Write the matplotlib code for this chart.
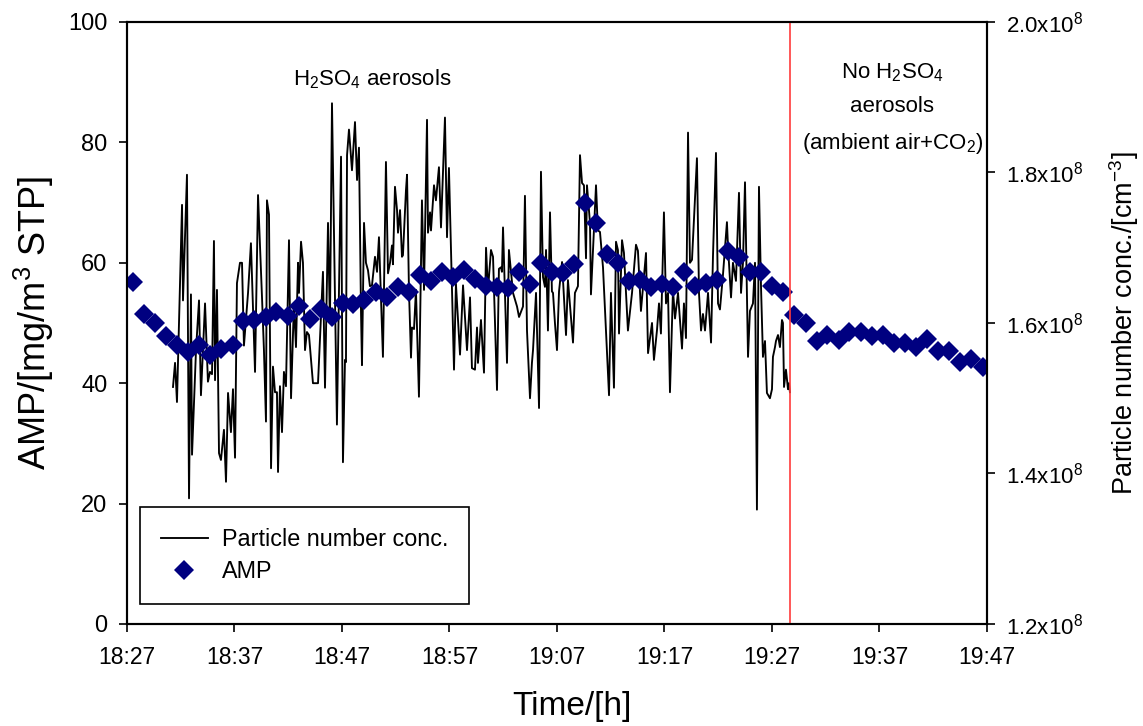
import datetime as dt
import matplotlib
matplotlib.use("Agg")
import matplotlib.pyplot as plt
import matplotlib.dates as mdates
from matplotlib.lines import Line2D

plt.rcParams['font.family'] = ['Liberation Sans', 'DejaVu Sans']
plt.rcParams['mathtext.default'] = 'regular'

# AMP concentration [mg/m3 STP], minutes after 18:27
amp_minutes = [0.56, 1.58, 2.60, 3.63, 4.65, 5.67, 6.70, 7.72, 8.74, 9.86,
               10.79, 11.81, 12.93, 13.86, 14.98, 16.00, 17.02, 18.05, 19.07, 20.09,
               21.02, 22.05, 23.16, 24.19, 25.21, 26.23, 27.26, 28.28, 29.30, 30.33,
               31.35, 32.37, 33.40, 34.42, 35.44, 36.47, 37.49, 38.51, 39.53, 40.56,
               41.58, 42.60, 43.63, 44.65, 45.67, 46.70, 47.72, 48.74, 49.77, 50.79,
               51.81, 52.84, 53.86, 54.88, 55.91, 56.93, 57.95, 58.98, 60.00, 61.02,
               62.05, 63.16, 64.19, 65.12, 66.23, 67.16, 68.28, 69.30, 70.33, 71.35,
               72.37, 73.40, 74.42, 75.44, 76.47, 77.49, 78.51, 79.63]
amp_values = [56.8, 51.5, 50.0, 47.8, 46.3, 45.2, 46.3, 44.7, 45.7, 46.3,
              50.3, 50.5, 51.0, 51.8, 51.2, 52.8, 50.7, 52.3, 51.0, 53.3,
              53.2, 53.8, 55.1, 54.3, 56.0, 55.1, 58.0, 57.0, 58.5, 57.6,
              58.8, 57.3, 56.1, 56.0, 55.8, 58.5, 56.5, 60.0, 58.5, 58.3,
              59.8, 69.9, 66.6, 61.5, 60.0, 57.0, 57.1, 56.0, 56.5, 56.0,
              58.5, 56.1, 56.6, 57.1, 62.0, 61.0, 58.5, 58.5, 56.1, 55.1,
              51.3, 50.0, 47.0, 48.0, 47.2, 48.5, 48.5, 47.8, 48.0, 46.7,
              46.7, 46.0, 47.3, 45.3, 45.3, 43.5, 44.0, 42.7]

# Particle number concentration [1e8 cm^-3], minutes after 18:27
pn_minutes = [4.28, 4.47, 4.65, 5.12, 5.21, 5.58, 5.77, 5.95, 6.05, 6.42,
              6.70, 6.88, 7.26, 7.53, 7.72, 7.91, 8.09, 8.19, 8.37, 8.56,
              8.74, 9.02, 9.21, 9.40, 9.67, 9.86, 10.05, 10.23, 10.51, 10.70,
              10.88, 11.26, 11.53, 11.91, 12.19, 12.56, 12.74, 12.93, 13.02, 13.21,
              13.40, 13.58, 13.77, 13.95, 14.05, 14.23, 14.42, 14.60, 14.79, 15.07,
              15.26, 15.53, 15.72, 15.91, 16.00, 16.19, 16.37, 16.56, 16.74, 16.93,
              17.30, 17.77, 18.23, 18.42, 18.70, 18.88, 19.07, 19.53, 19.91, 20.09,
              20.28, 20.37, 20.47, 20.65, 20.93, 21.21, 21.40, 21.58, 21.77, 21.86,
              22.05, 22.23, 22.42, 22.60, 22.79, 23.07, 23.26, 23.44, 23.81, 24.09,
              24.28, 24.47, 24.65, 24.74, 24.93, 25.12, 25.21, 25.40, 25.58, 25.67,
              25.95, 26.05, 26.23, 26.42, 26.51, 26.70, 26.88, 27.16, 27.44, 27.63,
              27.91, 28.00, 28.19, 28.28, 28.56, 28.74, 29.02, 29.21, 29.58, 29.77,
              29.95, 30.23, 30.42, 30.60, 30.98, 31.26, 31.63, 31.91, 32.09, 32.37,
              32.56, 32.65, 32.93, 33.21, 33.40, 33.58, 33.86, 34.05, 34.42, 34.60,
              34.79, 34.88, 34.98, 35.35, 35.53, 35.91, 36.28, 36.47, 36.84, 37.02,
              37.21, 37.49, 37.67, 37.77, 38.05, 38.33, 38.51, 38.70, 38.88, 38.98,
              39.16, 39.35, 39.53, 39.63, 39.81, 40.00, 40.19, 40.47, 40.84, 41.02,
              41.49, 41.67, 41.95, 42.14, 42.33, 42.51, 42.70, 42.79, 43.07, 43.16,
              43.63, 43.81, 44.00, 44.28, 44.84, 45.02, 45.30, 45.49, 45.67, 45.77,
              46.05, 46.23, 46.60, 46.98, 47.35, 47.53, 47.81, 48.28, 48.47, 48.84,
              49.02, 49.30, 49.49, 49.67, 49.95, 50.14, 50.33, 50.51, 50.79, 50.98,
              51.26, 51.63, 51.81, 52.00, 52.19, 52.37, 52.56, 53.02, 53.21, 53.40,
              53.58, 53.77, 54.05, 54.33, 54.51, 54.79, 54.98, 55.16, 55.44, 55.81,
              55.91, 56.19, 56.37, 56.65, 56.93, 57.12, 57.30, 57.49, 57.77, 57.95,
              58.23, 58.42, 58.60, 58.79, 58.98, 59.16, 59.35, 59.53, 59.81, 60.00,
              60.09, 60.28, 60.37, 60.56, 60.74, 60.93, 61.02, 61.12, 61.30, 61.49,
              61.58, 61.67]
pn_values = [1.515, 1.547, 1.495, 1.757, 1.630, 1.797, 1.367, 1.638, 1.425, 1.564,
             1.630, 1.504, 1.626, 1.522, 1.535, 1.532, 1.709, 1.524, 1.644, 1.427,
             1.418, 1.458, 1.389, 1.507, 1.455, 1.512, 1.421, 1.653, 1.680, 1.680,
             1.570, 1.640, 1.706, 1.535, 1.770, 1.634, 1.564, 1.469, 1.763, 1.744,
             1.407, 1.542, 1.508, 1.508, 1.402, 1.516, 1.455, 1.535, 1.516, 1.710,
             1.500, 1.626, 1.568, 1.680, 1.640, 1.708, 1.680, 1.564, 1.588, 1.584,
             1.520, 1.520, 1.668, 1.514, 1.733, 1.600, 1.892, 1.465, 1.821, 1.415,
             1.551, 1.548, 1.823, 1.857, 1.803, 1.867, 1.790, 1.833, 1.614, 1.544,
             1.733, 1.680, 1.670, 1.649, 1.650, 1.688, 1.668, 1.714, 1.555, 1.814,
             1.666, 1.680, 1.703, 1.678, 1.781, 1.750, 1.720, 1.750, 1.688, 1.690,
             1.776, 1.797, 1.644, 1.554, 1.594, 1.592, 1.644, 1.502, 1.763, 1.644,
             1.870, 1.720, 1.747, 1.723, 1.783, 1.763, 1.807, 1.727, 1.873, 1.714,
             1.806, 1.646, 1.538, 1.652, 1.558, 1.650, 1.564, 1.634, 1.540, 1.538,
             1.594, 1.547, 1.604, 1.534, 1.700, 1.644, 1.697, 1.688, 1.511, 1.672,
             1.674, 1.668, 1.727, 1.547, 1.697, 1.640, 1.622, 1.608, 1.622, 1.769,
             1.590, 1.500, 1.547, 1.564, 1.640, 1.487, 1.801, 1.661, 1.648, 1.697,
             1.590, 1.747, 1.642, 1.640, 1.600, 1.564, 1.642, 1.681, 1.584, 1.657,
             1.574, 1.640, 1.649, 1.823, 1.786, 1.783, 1.686, 1.783, 1.733, 1.638,
             1.783, 1.723, 1.721, 1.674, 1.504, 1.640, 1.514, 1.708, 1.697, 1.586,
             1.710, 1.693, 1.590, 1.640, 1.704, 1.696, 1.616, 1.693, 1.560, 1.600,
             1.551, 1.590, 1.626, 1.586, 1.747, 1.626, 1.640, 1.508, 1.644, 1.606,
             1.640, 1.566, 1.626, 1.580, 1.853, 1.680, 1.684, 1.819, 1.640, 1.590,
             1.612, 1.590, 1.640, 1.574, 1.688, 1.826, 1.626, 1.618, 1.664, 1.734,
             1.701, 1.634, 1.680, 1.656, 1.773, 1.640, 1.680, 1.787, 1.555, 1.616,
             1.626, 1.680, 1.352, 1.781, 1.648, 1.555, 1.576, 1.507, 1.500, 1.512,
             1.555, 1.568, 1.576, 1.584, 1.568, 1.604, 1.600, 1.515, 1.538, 1.512,
             1.520, 1.508]

switch_minute = 61.7          # end of H2SO4 aerosol dosing
start = dt.datetime(2000, 1, 1, 18, 27)
end = dt.datetime(2000, 1, 1, 19, 47)
left_ticks = [0, 20, 40, 60, 80, 100]
right_ticks = [1.2, 1.4, 1.6, 1.8, 2.0]


def to_time(mins):
    return [start + dt.timedelta(minutes=m) for m in mins]


fig = plt.figure(figsize=(11.43, 7.26), dpi=100)
ax = fig.add_axes([0.1111, 0.1405, 0.7524, 0.8292])
ax2 = ax.twinx()

# particle number concentration on the right axis (drawn underneath)
ax2.plot(to_time(pn_minutes), [v * 1e8 for v in pn_values], color='black', lw=1.35)
ax2.set_ylim(1.2e8, 2.0e8)
ax2.set_yticks([v * 1e8 for v in right_ticks])
ax2.set_yticklabels([f'{v:.1f}x10$^8$' for v in right_ticks])
ax2.set_ylabel('Particle number conc./[cm$^{-3}$]', fontsize=19.5, labelpad=17)

# AMP on the left axis, in front
ax.set_zorder(ax2.get_zorder() + 1)
ax.patch.set_visible(False)
ax.plot(to_time(amp_minutes), amp_values, linestyle='none', marker='D',
        color='#000080', markersize=10.5, markeredgewidth=0)
ax.axvline(start + dt.timedelta(minutes=switch_minute), color='#ff3b3b', lw=1.2)

ax.set_xlim(start, end)
ax.set_ylim(0, 100)
ax.set_yticks(left_ticks)
ax.xaxis.set_major_locator(mdates.MinuteLocator(byminute=[7, 17, 27, 37, 47, 57]))
ax.xaxis.set_major_formatter(mdates.DateFormatter('%H:%M'))
ax.set_xlabel('Time/[h]', fontsize=24, labelpad=14)
ax.xaxis.set_label_coords(0.517, -0.112)
ax.set_ylabel('AMP/[mg/m$^3$ STP]', fontsize=26, labelpad=9)

for a in (ax, ax2):
    a.tick_params(direction='out', length=6, width=1.2)
    for s in a.spines.values():
        s.set_linewidth(1.5)
ax.tick_params(axis='x', pad=10, labelsize=16.5)
ax.tick_params(axis='y', pad=8, labelsize=17)
ax2.tick_params(axis='y', pad=8, labelsize=16)

ax.text(start + dt.timedelta(minutes=22.8), 90.5, 'H$_2$SO$_4$ aerosols',
        ha='center', va='center', fontsize=16)
ax.text(start + dt.timedelta(minutes=71.2), 85.6,
        'No H$_2$SO$_4$\naerosols\n(ambient air+CO$_2$)',
        ha='center', va='center', fontsize=16, linespacing=1.78)

handles = [Line2D([], [], color='black', lw=1.35),
           Line2D([], [], linestyle='none', marker='D', color='#000080',
                  markersize=10.5, markeredgewidth=0)]
leg = ax.legend(handles, ['Particle number conc.', 'AMP'], loc='lower left',
                bbox_to_anchor=(0.015, 0.033), fontsize=16.8, frameon=True,
                fancybox=False, edgecolor='black', framealpha=1,
                borderpad=0.9, handlelength=2.0, handletextpad=0.6,
                labelspacing=0.4, borderaxespad=0)
leg.get_frame().set_linewidth(1.2)

fig.savefig('out.png', dpi=100)
